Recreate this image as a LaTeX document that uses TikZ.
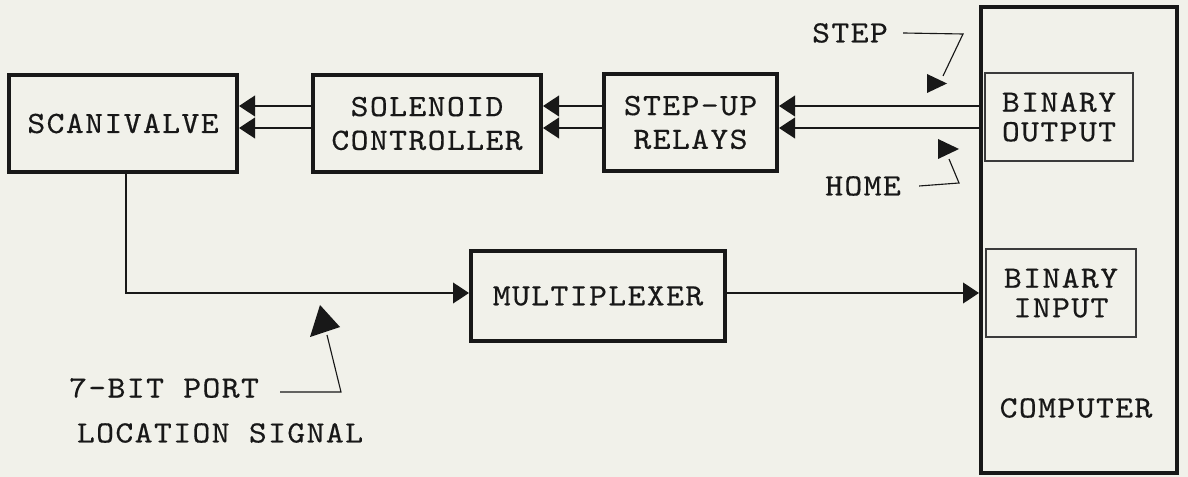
\documentclass[tikz,border=0pt]{standalone}
\usepackage{fontspec}
\setmonofont[FakeStretch=1.1,LetterSpace=4.5,FakeBold=0.4]{lmmono10-regular.otf}
\usetikzlibrary{arrows.meta}
\definecolor{paper}{RGB}{241,241,234}
\definecolor{ink}{RGB}{24,24,24}

\begin{document}
\begin{tikzpicture}[x=0.025cm,y=-0.025cm,
	every node/.style={font=\ttfamily\fontsize{22}{24}\selectfont,text=ink,align=center,inner sep=0pt},
	block/.style={draw=ink,line width=2.8pt,minimum height=2.425cm},
	port/.style={draw=ink!85,line width=0.8pt,minimum width=3.7cm,minimum height=2.2cm},
	sig/.style={color=ink,line width=0.9pt,-{Triangle[length=0.4cm,width=0.52cm]}},
	lead/.style={draw=ink,line width=0.8pt}]
	\fill[paper] (0,0) rectangle (1188,477);
	\useasboundingbox (0,0) rectangle (1188,477);
	\node[block,minimum width=5.7cm] (scani) at (123,123.5) {SCANIVALVE};
	\node[block,minimum width=5.7cm] (sol) at (427,123.5) {SOLENOID\\CONTROLLER};
	\node[block,minimum width=4.325cm] (relays) at (690.5,122.5) {STEP-UP\\RELAYS};
	\node[block,minimum width=6.35cm,minimum height=2.25cm] (mux) at (598,296) {MULTIPLEXER};
	\node[block,minimum width=4.9cm,minimum height=11.65cm] (comp) at (1079,240) {};
	\node[port] (binout) at (1059,117) {BINARY\\[-3pt]OUTPUT};
	\node[port,minimum width=3.75cm] (binin) at (1061,293) {BINARY\\[-3pt]INPUT};
	\node (complbl) at (1076,408) {COMPUTER};
	\node (steplbl) at (850,33) {STEP};
	\node (homelbl) at (863,186) {HOME};
	\node (portlbl) at (164,388) {7-BIT PORT};
	\node (loclbl) at (220,433) {LOCATION SIGNAL};
	\coordinate (hi) at (0,106);
	\coordinate (lo) at (0,128);
	\coordinate (bus) at (0,293);
	\coordinate (steptip) at (943,76);
	\coordinate (hometip) at (949,159);
	\coordinate (porttip) at (327,335);
	\path[sig]
		(comp.west |- hi) edge (relays.east |- hi)
		(comp.west |- lo) edge (relays.east |- lo)
		(relays.west |- hi) edge (sol.east |- hi)
		(relays.west |- lo) edge (sol.east |- lo)
		(sol.west |- hi) edge (scani.east |- hi)
		(sol.west |- lo) edge (scani.east |- lo)
		(mux.east |- bus) edge (comp.west |- bus);
	\draw[sig] ([xshift=0.075cm]scani.south) |- (mux.west |- bus);
	\draw[lead] ([xshift=0.375cm]steplbl.east) -- (963,34) -- (steptip);
	\draw[lead] ([xshift=0.45cm]homelbl.east) -- (959,183) -- (hometip);
	\draw[lead] ([xshift=0.525cm,yshift=-0.1cm]portlbl.east) -- (341,392) -- (porttip);
	\fill[ink] (927,74) -- (947,83.5) -- (927,93) -- cycle;
	\fill[ink] (938,139) -- (959,149) -- (938,159) -- cycle;
	\fill[ink] (310,337) -- (320,305) -- (340,327) -- cycle;
\end{tikzpicture}
\end{document}
